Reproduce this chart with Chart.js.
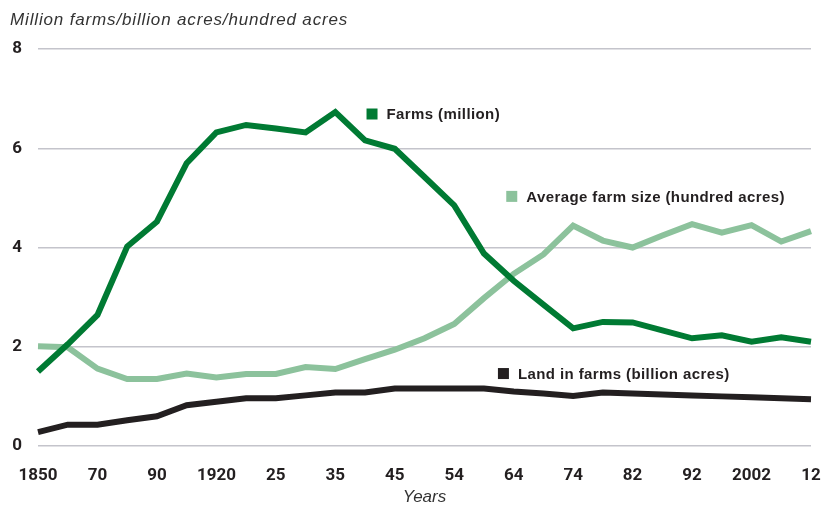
<!DOCTYPE html>
<html>
<head>
<meta charset="utf-8">
<script src="https://cdn.jsdelivr.net/npm/chart.js@4/dist/chart.umd.min.js"></script>
<style>
  html, body { margin: 0; padding: 0; background: #fff; }
  #wrap { width: 832px; height: 508px; position: relative; }
</style>
</head>
<body>
<div id="wrap"><canvas id="farmChart"></canvas></div>
<script>
// census years, only every other one is labelled on the axis
const categories = ['1850','','70','','90','','1920','','25','','35','','45','','54','','64','','74','','82','','92','','2002','','12'];

const farms = [1.5, 2.05, 2.64, 4.02, 4.52, 5.7, 6.32, 6.47, 6.4, 6.32, 6.73, 6.16, 5.99, 5.42, 4.85, 3.88, 3.33, 2.85, 2.37, 2.5, 2.49, 2.33, 2.17, 2.23, 2.1, 2.19, 2.1];
const farmSize = [2.01, 1.99, 1.56, 1.35, 1.35, 1.46, 1.38, 1.45, 1.45, 1.59, 1.55, 1.75, 1.94, 2.17, 2.46, 2.98, 3.47, 3.86, 4.44, 4.14, 4.0, 4.24, 4.47, 4.3, 4.45, 4.12, 4.33];
const landInFarms = [0.28, 0.43, 0.43, 0.52, 0.6, 0.82, 0.89, 0.96, 0.96, 1.02, 1.08, 1.08, 1.16, 1.16, 1.16, 1.16, 1.1, 1.06, 1.01, 1.08, 1.06, 1.04, 1.02, 1.0, 0.98, 0.96, 0.94];

const yTicks = [0, 2, 4, 6, 8];

const tickFont = "Roboto, 'Liberation Sans', sans-serif";
const plain = "'Liberation Sans', Arial, sans-serif";
const ink = '#231f20';

// in-chart series labels + the y-axis caption
const seriesLabels = {
  id: 'seriesLabels',
  afterDatasetsDraw(chart) {
    const { ctx, scales: { x, y } } = chart;
    ctx.save();
    ctx.textBaseline = 'middle';
    ctx.textAlign = 'left';
    chart.data.datasets.forEach(ds => {
      const px = x.getPixelForValue(ds.tag.at);
      const py = y.getPixelForValue(ds.tag.v);
      ctx.fillStyle = ds.borderColor;
      ctx.fillRect(px, py - 5.5, 11, 11);
      ctx.fillStyle = ink;
      ctx.font = 'bold 15px ' + plain;
      ctx.letterSpacing = '0.4px';
      ctx.fillText(ds.label, px + 20, py + 1);
    });
    ctx.font = 'italic 17px ' + plain;
    ctx.letterSpacing = '0.85px';
    ctx.fillStyle = '#333';
    ctx.fillText('Million farms/billion acres/hundred acres', 10, 20);
    ctx.restore();
  }
};

const ctx = document.getElementById('farmChart').getContext('2d');
new Chart(ctx, {
  type: 'line',
  data: {
    labels: categories,
    datasets: [
      { label: 'Farms (million)', data: farms, borderColor: '#007a33', tag: { at: 11.05, v: 6.69 } },
      { label: 'Average farm size (hundred acres)', data: farmSize, borderColor: '#8cc29c', tag: { at: 15.75, v: 5.03 } },
      { label: 'Land in farms (billion acres)', data: landInFarms, borderColor: ink, tag: { at: 15.47, v: 1.46 } }
    ]
  },
  options: {
    responsive: true,
    maintainAspectRatio: false,
    animation: false,
    layout: { padding: { top: 49, right: 21, left: 0, bottom: 0 } },
    elements: {
      line: { borderWidth: 6, tension: 0, fill: false, borderCapStyle: 'butt', borderJoinStyle: 'miter' },
      point: { radius: 0, hoverRadius: 0 }
    },
    datasets: { line: { clip: false } },
    scales: {
      x: {
        afterFit: s => { s.height = 62; s.paddingLeft = 0; s.paddingRight = 0; },
        grid: { display: false, drawTicks: false },
        border: { display: false },
        ticks: {
          autoSkip: false,
          maxRotation: 0,
          padding: 20,
          color: ink,
          font: { family: tickFont, size: 17, weight: 'bold' }
        },
        title: {
          display: true,
          text: 'Years',
          color: '#333',
          padding: { top: 0, bottom: 1 },
          font: { family: plain, size: 17, style: 'italic' }
        }
      },
      y: {
        min: 0,
        max: 8,
        afterBuildTicks: s => { s.ticks = yTicks.map(v => ({ value: v })); },
        afterFit: s => { s.width = 38; s.paddingTop = 0; s.paddingBottom = 0; },
        border: { display: false },
        grid: { color: '#c4c4cb', lineWidth: 1.5, drawTicks: false },
        ticks: {
          padding: 16,
          color: ink,
          font: { family: tickFont, size: 17, weight: 'bold' }
        }
      }
    },
    plugins: {
      legend: { display: false },
      tooltip: { enabled: false }
    }
  },
  plugins: [seriesLabels]
});
</script>
</body>
</html>
